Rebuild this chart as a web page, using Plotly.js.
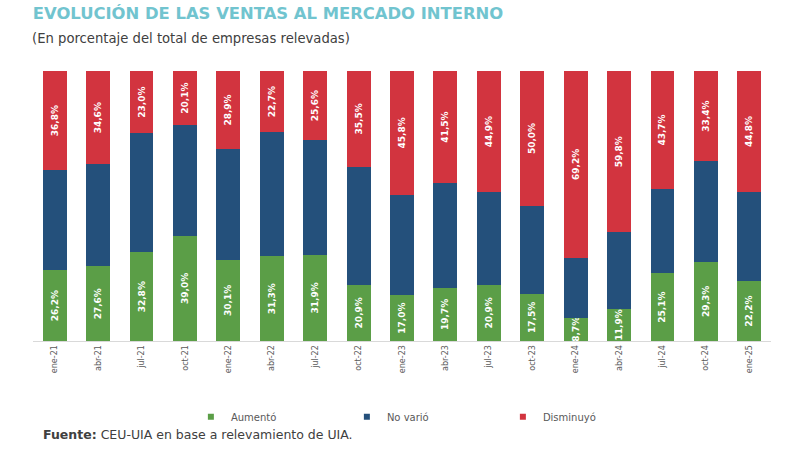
<!DOCTYPE html>
<html>
<head>
<meta charset="utf-8">
<script src="https://cdn.plot.ly/plotly-3.0.1.min.js"></script>
<style>html,body{margin:0;padding:0;background:#fff;}#chart{width:800px;height:449px;}</style>
</head>
<body>
<div id="chart"></div>
<script>
const categories = ["ene-21","abr-21","jul-21","oct-21","ene-22","abr-22","jul-22","oct-22","ene-23","abr-23","jul-23","oct-23","ene-24","abr-24","jul-24","oct-24","ene-25"];
const aumento    = [26.2,27.6,32.8,39.0,30.1,31.3,31.9,20.9,17.0,19.7,20.9,17.5,8.7,11.9,25.1,29.3,22.2];
const noVario    = [37.0,37.8,44.2,40.9,41.0,46.0,42.5,43.6,37.2,38.8,34.2,32.5,22.1,28.3,31.2,37.3,33.0];
const disminuyo  = [36.8,34.6,23.0,20.1,28.9,22.7,25.6,35.5,45.8,41.5,44.9,50.0,69.2,59.8,43.7,33.4,44.8];
const seriesNames = ["Aumentó","No varió","Disminuyó"];
const colors = ["#5B9E47","#24507B","#D2343F"];

function fmt(v){ return v.toFixed(1).replace('.', ',') + '%'; }

const labelFont = {family:"DejaVu Sans", size:9, color:"#ffffff", weight:"bold"};

const traces = [
  {type:'bar', x:categories, y:aumento, name:seriesNames[0], marker:{color:colors[0]},
   text:aumento.map(fmt), textposition:'inside', insidetextanchor:'middle', textangle:-90,
   constraintext:'none', cliponaxis:false, textfont:labelFont, showlegend:false, hoverinfo:'x+y'},
  {type:'bar', x:categories, y:noVario, name:seriesNames[1], marker:{color:colors[1]},
   showlegend:false, hoverinfo:'x+y'},
  {type:'bar', x:categories, y:disminuyo, name:seriesNames[2], marker:{color:colors[2]},
   text:disminuyo.map(fmt), textposition:'inside', insidetextanchor:'middle', textangle:-90,
   constraintext:'none', textfont:labelFont, showlegend:false, hoverinfo:'x+y'}
];
// legend entries
seriesNames.forEach((n,i)=>{
  traces.push({type:'scatter', mode:'markers', x:[null], y:[null], name:n,
    marker:{symbol:'square', size:6, color:colors[i]}, showlegend:true, hoverinfo:'skip'});
});

const layout = {
  width:800, height:449,
  margin:{l:33, r:29, t:71, b:108},
  paper_bgcolor:'#ffffff', plot_bgcolor:'#ffffff',
  barmode:'stack', bargap:0.45,
  font:{family:"DejaVu Sans", color:"#595959"},
  title:{text:"EVOLUCIÓN DE LAS VENTAS AL MERCADO INTERNO",
    font:{family:"DejaVu Sans", size:16.4, color:"#71C4CF", weight:"bold"},
    x:0.041, xanchor:'left', xref:'container', y:0.971, yanchor:'middle', yref:'container'},
  xaxis:{type:'category', tickangle:-90, tickfont:{family:"DejaVu Sans", size:8, color:"#595959"},
    showline:true, linecolor:'#d9d9d9', linewidth:1, ticks:'', showgrid:false, fixedrange:true},
  yaxis:{range:[0,100], visible:false, showgrid:false, fixedrange:true},
  showlegend:true,
  legend:{orientation:'h', traceorder:'normal', x:0.531, xanchor:'center', y:-0.281, yanchor:'middle',
    font:{family:"DejaVu Sans", size:10, color:"#595959"}, entrywidth:111, entrywidthmode:'pixels',
    itemwidth:30, bgcolor:'rgba(0,0,0,0)'},
  annotations:[
    {text:"(En porcentaje del total de empresas relevadas)", xref:'paper', yref:'paper',
     x:-0.004, y:1.122, xanchor:'left', yanchor:'middle', showarrow:false,
     font:{family:"DejaVu Sans", size:13.2, color:"#404040"}},
    {text:"<b>Fuente:</b> CEU-UIA en base a relevamiento de UIA.", xref:'paper', yref:'paper',
     x:0.011, y:-0.348, xanchor:'left', yanchor:'middle', showarrow:false,
     font:{family:"DejaVu Sans", size:12.5, color:"#404040"}}
  ]
};

Plotly.newPlot('chart', traces, layout, {displayModeBar:false, staticPlot:true});
</script>
</body>
</html>
